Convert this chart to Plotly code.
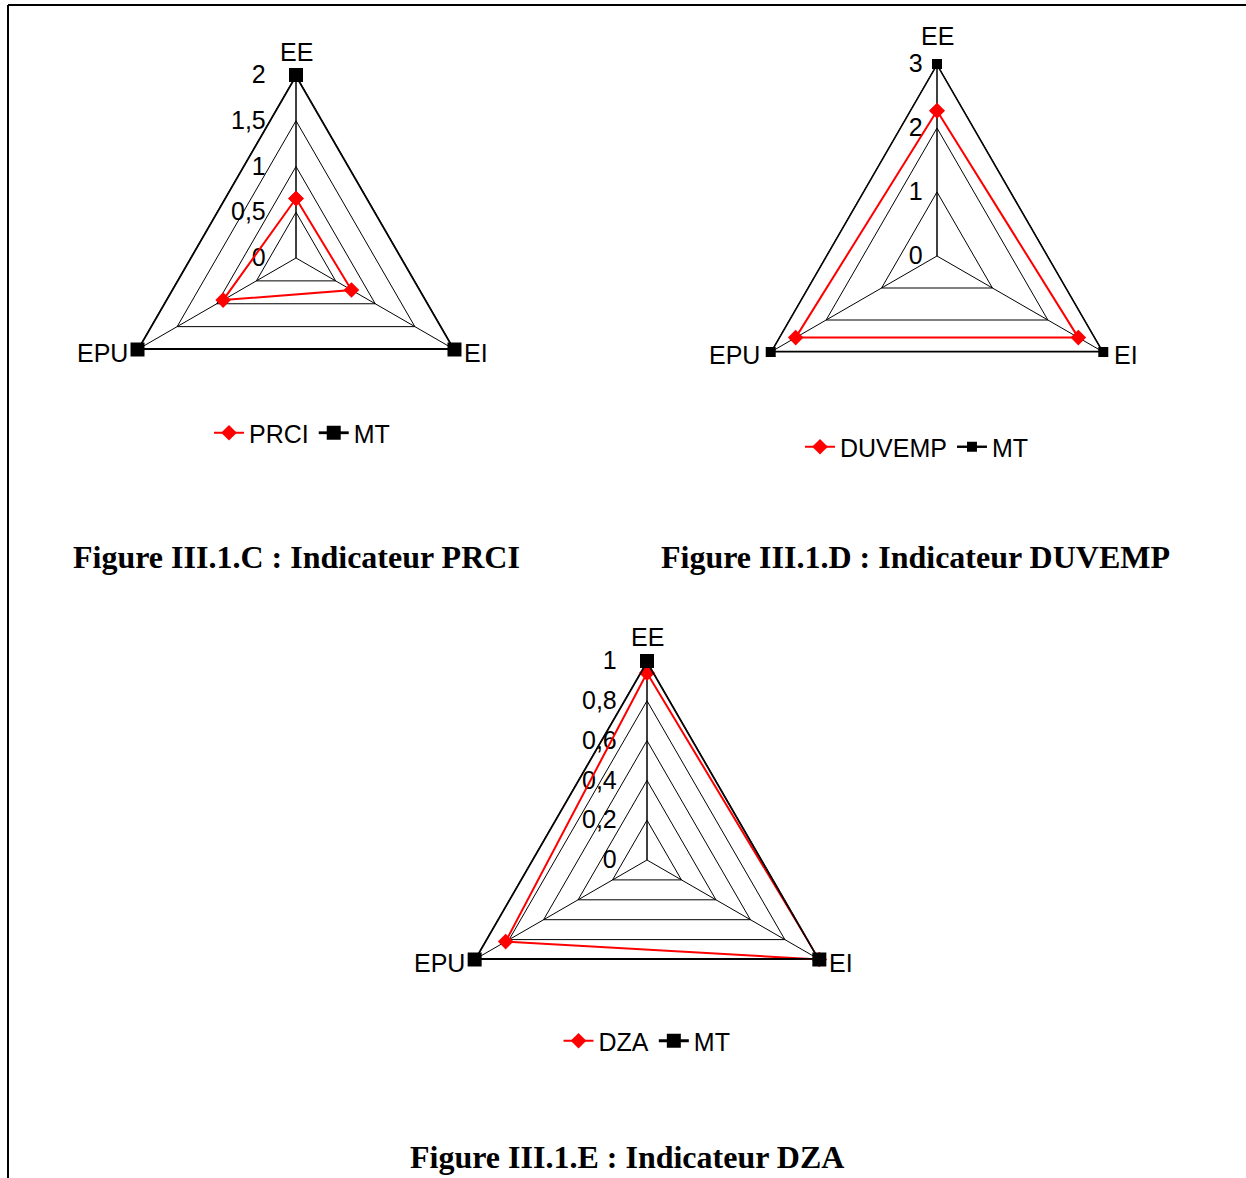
import math
import plotly.graph_objects as go

# ---------------- data ----------------
axes_labels = ["EE", "EI", "EPU"]

prci_values = [0.65, 0.70, 0.92]
mt_c_values = [2, 2, 2]

duvemp_values = [2.27, 2.55, 2.55]
mt_d_values = [3, 3, 3]

dza_values = [0.94, 1.0, 0.82]
mt_e_values = [1, 1, 1]

titles = ["Figure III.1.C : Indicateur PRCI",
          "Figure III.1.D : Indicateur DUVEMP",
          "Figure III.1.E : Indicateur DZA"]

# ---------------- layout helpers ----------------
W, H = 1246, 1178
SANS = "Arial, Liberation Sans, sans-serif"
SERIF = "Times New Roman, Liberation Serif, serif"
FS = 25


def dom(cx, cy, R):
    return dict(x=[(cx - R) / W, (cx + R) / W],
                y=[(H - (cy + R)) / H, (H - (cy - R)) / H])


def px(x, y):
    return x / W, 1 - y / H


def closed(v):
    return list(v) + [v[0]]


theta = closed(axes_labels)

fig = go.Figure()

charts = [
    # name, values, mt, polar id, legend id, center, R, rmax, dtick, tick offset,
    # mt marker size, mt width, label offsets (top dy, side dx)
    ("PRCI", prci_values, mt_c_values, "polar", "legend", (296, 258), 183, 2, 0.5, 21, 14, 2.8, (23, 8)),
    ("DUVEMP", duvemp_values, mt_d_values, "polar2", "legend2", (937, 256), 192, 3, 1, 5, 10, 2.4, (28, 9)),
    ("DZA", dza_values, mt_e_values, "polar3", "legend3", (647, 860), 199, 1, 0.2, 21, 14, 2.8, (24, 8)),
]

# angular direction of each category (clockwise from top)
label_angles = [90, -30, 210]
label_anchor = [("center", "middle"), ("left", "middle"), ("right", "middle")]

layout_polars = {}
for name, vals, mt, pid, lid, (cx, cy), R, rmax, dt, toff, msz, mtw, (tdy, sdx) in charts:
    fig.add_trace(go.Scatterpolar(
        r=closed(vals), theta=theta, name=name, subplot=pid, legend=lid,
        mode="lines+markers",
        line=dict(color="#ff0000", width=2),
        marker=dict(symbol="diamond", size=12, color="#ff0000"),
    ))
    fig.add_trace(go.Scatterpolar(
        r=closed(mt), theta=theta, name="MT", subplot=pid, legend=lid,
        mode="lines+markers",
        line=dict(color="#000000", width=mtw),
        marker=dict(symbol="square", size=msz, color="#000000"),
    ))
    layout_polars[pid] = dict(
        domain=dom(cx, cy, R),
        gridshape="linear",
        bgcolor="white",
        radialaxis=dict(
            range=[0, rmax], dtick=dt, tick0=0, angle=90, tickangle=90,
            side="counterclockwise",
            showline=True, linecolor="black", linewidth=1,
            gridcolor="black", gridwidth=0.6,
            ticks="outside", ticklen=toff, tickcolor="rgba(0,0,0,0)",
            tickfont=dict(family=SANS, size=FS, color="black"),
            layer="below traces",
        ),
        angularaxis=dict(
            rotation=90, direction="clockwise",
            showline=True, linecolor="black", linewidth=1,
            gridcolor="black", gridwidth=0.6,
            ticks="", showticklabels=False,
            layer="below traces",
        ),
    )
    # category labels placed just outside each vertex of the polar frame
    for lab, ang, (xa, ya) in zip(axes_labels, label_angles, label_anchor):
        vx = cx + R * math.cos(math.radians(ang))
        vy = cy - R * math.sin(math.radians(ang))
        if ang == 90:
            lxp, lyp = vx, vy - tdy
        elif ang < 90:
            lxp, lyp = vx + sdx, vy + 3
        else:
            lxp, lyp = vx - sdx, vy + 3
        ax_, ay_ = px(lxp, lyp)
        fig.add_annotation(text=lab, x=ax_, y=ay_, xref="paper", yref="paper",
                           xanchor=xa, yanchor=ya, showarrow=False,
                           font=dict(family=SANS, size=FS, color="black"))

fig.update_layout(**layout_polars)

legend_common = dict(orientation="h", xanchor="center", yanchor="middle",
                     font=dict(family=SANS, size=FS, color="black"),
                     bgcolor="rgba(0,0,0,0)", itemclick=False)
lx, ly = px(302, 433)
l2x, l2y = px(917, 447)
l3x, l3y = px(647, 1041)
fig.update_layout(
    legend=dict(x=lx, y=ly, **legend_common),
    legend2=dict(x=l2x, y=l2y, **legend_common),
    legend3=dict(x=l3x, y=l3y, **legend_common),
)

title_pos = [(296, 557), (915, 557), (627, 1157)]
for t, (tx, ty) in zip(titles, title_pos):
    ax, ay = px(tx, ty)
    fig.add_annotation(text="<b>" + t + "</b>", x=ax, y=ay, xref="paper", yref="paper",
                       xanchor="center", yanchor="middle", showarrow=False,
                       font=dict(family=SERIF, size=32, color="black"))

# page frame (left and top border)
x0, y0 = px(8, 5)
fig.add_shape(type="line", xref="paper", yref="paper", x0=x0, y0=y0, x1=1.0, y1=y0,
              line=dict(color="black", width=2))
fig.add_shape(type="line", xref="paper", yref="paper", x0=x0, y0=y0, x1=x0, y1=0,
              line=dict(color="black", width=2))

fig.update_layout(
    width=W, height=H, margin=dict(l=0, r=0, t=0, b=0),
    paper_bgcolor="white", plot_bgcolor="white",
    separators=", ",
    showlegend=True,
)

fig.write_html("out.html", config={"displayModeBar": False},
               post_script="document.body.style.margin='0';")
